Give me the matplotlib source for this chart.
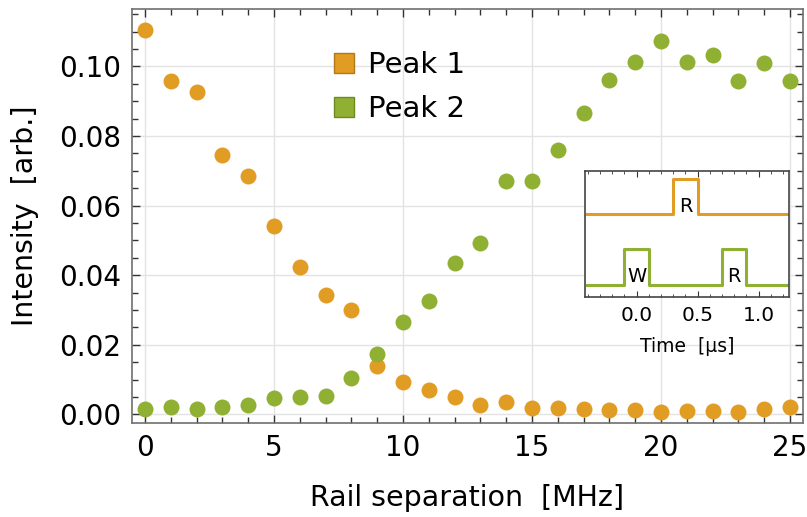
import matplotlib
matplotlib.use("Agg")
from matplotlib import pyplot as plt
from matplotlib.patches import Patch
from matplotlib.ticker import MultipleLocator

# dados
separacao = list(range(26))
pico1 = [0.1105, 0.0958, 0.0925, 0.0745, 0.0685, 0.0542, 0.0422, 0.0342, 0.0299,
         0.0140, 0.0094, 0.0070, 0.0049, 0.0028, 0.0034, 0.0017, 0.0018, 0.0015,
         0.0011, 0.0011, 0.0008, 0.0010, 0.0010, 0.0006, 0.0014, 0.0020]
pico2 = [0.0015, 0.0022, 0.0016, 0.0022, 0.0026, 0.0046, 0.0050, 0.0054, 0.0104,
         0.0174, 0.0265, 0.0327, 0.0434, 0.0492, 0.0672, 0.0672, 0.0760, 0.0866,
         0.0960, 0.1012, 0.1073, 0.1014, 0.1032, 0.0959, 0.1009, 0.0959]

# sequência de pulsos do inset
t_leitura = [-0.41, 0.3, 0.3, 0.5, 0.5, 1.23]
v_leitura = [2, 2, 3, 3, 2, 2]
t_escrita = [-0.41, -0.1, -0.1, 0.1, 0.1, 0.7, 0.7, 0.9, 0.9, 1.23]
v_escrita = [0, 0, 1, 1, 0, 0, 1, 1, 0, 0]

laranja = '#E19C24'
verde = '#8FB032'
cinza = '#707070'

fig = plt.figure(figsize=(8.07, 5.17), dpi=100)
ax = fig.add_axes([0.1636, 0.1818, 0.8314, 0.8008])

ax.plot(separacao, pico1, 'o', color=laranja, markersize=11.5, markeredgewidth=0)
ax.plot(separacao, pico2, 'o', color=verde, markersize=11.5, markeredgewidth=0)

ax.set_xlim(-0.5, 25.5)
ax.set_ylim(-0.0025, 0.1165)
ax.xaxis.set_major_locator(MultipleLocator(5))
ax.xaxis.set_minor_locator(MultipleLocator(1))
ax.yaxis.set_major_locator(MultipleLocator(0.02))
ax.yaxis.set_minor_locator(MultipleLocator(0.005))
ax.yaxis.set_major_formatter(plt.FormatStrFormatter('%.2f'))
ax.tick_params(which='both', direction='in', top=True, right=True, labelsize=20, color='#333333')
ax.tick_params(which='major', length=6, width=1)
ax.tick_params(which='minor', length=4, width=1)
ax.tick_params(axis='y', which='major', pad=8)
ax.tick_params(axis='x', which='major', pad=8)
for s in ax.spines.values():
    s.set_color(cinza)
    s.set_linewidth(1.2)
ax.grid(True, which='major', color='#e3e3e3', linewidth=1)
ax.set_axisbelow(True)
ax.set_xlabel('Rail separation  [MHz]', fontsize=20.5, labelpad=16)
ax.set_ylabel('Intensity  [arb.]', fontsize=20.5, labelpad=14)

alcas = [Patch(facecolor=laranja, edgecolor='#b07818', label='Peak 1'),
         Patch(facecolor=verde, edgecolor='#6d8a20', label='Peak 2')]
ax.legend(handles=alcas, loc='upper left', bbox_to_anchor=(0.262, 0.962), frameon=False,
          fontsize=21, handlelength=0.7, handleheight=0.7, handletextpad=0.45,
          labelspacing=0.55)

# inset
ins = fig.add_axes([0.7245, 0.425, 0.2535, 0.245])
ins.plot(t_leitura, v_leitura, color=laranja, linewidth=2.2)
ins.plot(t_escrita, v_escrita, color=verde, linewidth=2.2)
ins.text(0.4, 1.95, 'R', ha='center', va='bottom', fontsize=14)
ins.text(0.0, -0.05, 'W', ha='center', va='bottom', fontsize=14)
ins.text(0.8, -0.05, 'R', ha='center', va='bottom', fontsize=14)
ins.set_xlim(-0.425, 1.25)
ins.set_ylim(-0.36, 3.24)
ins.xaxis.set_major_locator(MultipleLocator(0.5))
ins.xaxis.set_minor_locator(MultipleLocator(0.1))
ins.set_yticks([])
ins.tick_params(which='both', direction='in', top=True, labelsize=14.5, color='#333333', pad=6)
ins.tick_params(which='major', length=4)
ins.tick_params(which='minor', length=2.5)
for s in ins.spines.values():
    s.set_color('#444444')
    s.set_linewidth(1.2)
ins.set_xlabel('Time  [μs]', fontsize=13.5, labelpad=9)

fig.savefig('out.png', dpi=100)
